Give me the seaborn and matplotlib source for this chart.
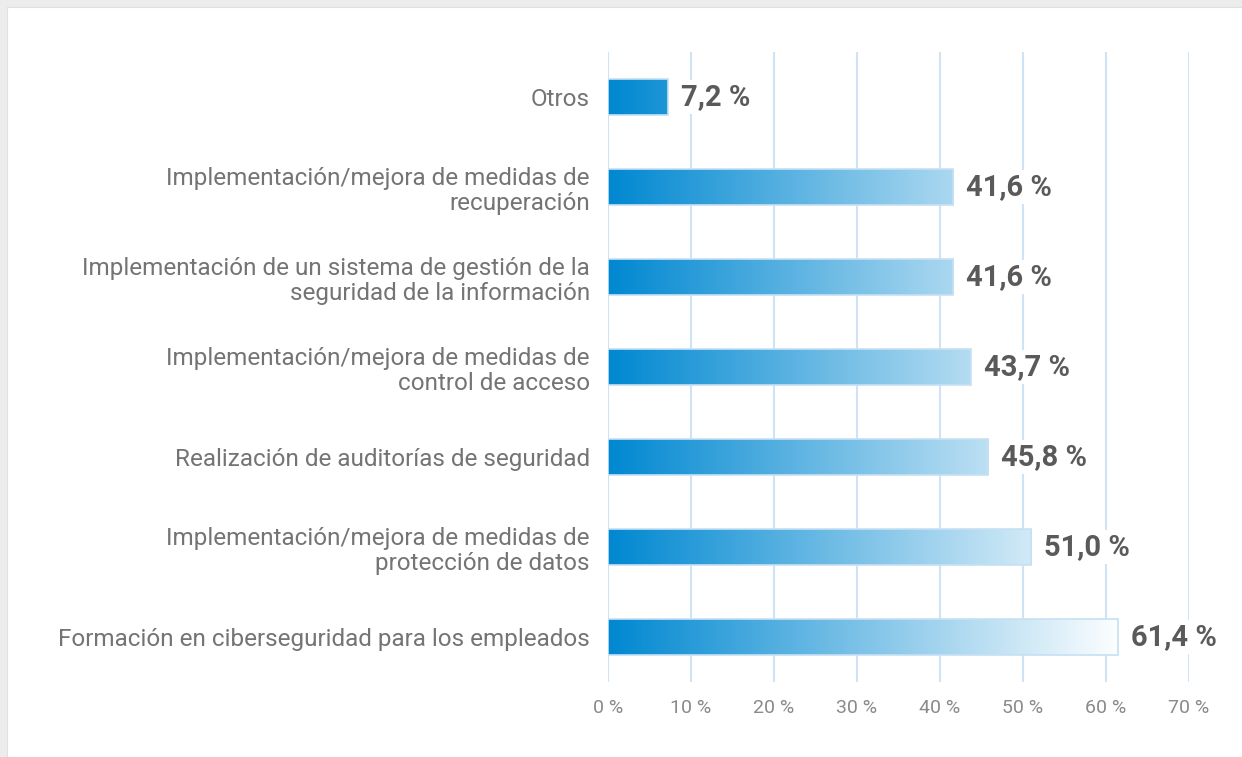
import numpy as np
import pandas as pd
import matplotlib
matplotlib.use("Agg")
import matplotlib.pyplot as plt
import seaborn as sns
from matplotlib.colors import LinearSegmentedColormap
from matplotlib.patches import Rectangle

categories = [
    "Otros",
    "Implementación/mejora de medidas de\nrecuperación",
    "Implementación de un sistema de gestión de la\nseguridad de la información",
    "Implementación/mejora de medidas de\ncontrol de acceso",
    "Realización de auditorías de seguridad",
    "Implementación/mejora de medidas de\nprotección de datos",
    "Formación en ciberseguridad para los empleados",
]
values = [7.2, 41.6, 41.6, 43.7, 45.8, 51.0, 61.4]
value_labels = ["7,2 %", "41,6 %", "41,6 %", "43,7 %", "45,8 %", "51,0 %", "61,4 %"]
tick_values = [0, 10, 20, 30, 40, 50, 60, 70]
tick_labels = ["0 %", "10 %", "20 %", "30 %", "40 %", "50 %", "60 %", "70 %"]

sns.set_theme(style="white")
plt.rcParams["font.family"] = ["Roboto", "DejaVu Sans"]

W, H = 1242, 757
fig = plt.figure(figsize=(W / 100, H / 100), dpi=100)
fig.patch.set_facecolor("#ececec")
fig.patches.append(Rectangle((7 / W, 0), 1 - 7 / W, 1 - 7 / H, transform=fig.transFigure,
                             facecolor="white", edgecolor="#e0e0e0", lw=0.8, zorder=-1))

ax = fig.add_axes([608 / W, 1 - 682 / H, (1189 - 608) / W, (682 - 52) / H])
ax.set_facecolor("none")

df = pd.DataFrame({"cat": categories, "val": values})
sns.barplot(data=df, y="cat", x="val", orient="h", ax=ax, width=0.4,
            color="#0088d1", edgecolor="#c6e0f4", linewidth=1.2, zorder=3)

cmap = LinearSegmentedColormap.from_list("g", ["#0088d1", "#ffffff"])
grad = np.linspace(0, 1, 256).reshape(1, -1)
for p in ax.patches:
    x0, y0 = p.get_x(), p.get_y()
    h = p.get_height()
    im = ax.imshow(grad, cmap=cmap, aspect="auto", extent=[0, 62, y0 + h, y0],
                   zorder=3.5, interpolation="bicubic")
    im.set_clip_path(p)
    p.set_facecolor("none")
    p.set_zorder(4)

ax.set_xlim(0, 70)
ax.set_ylim(6.5, -0.5)
ax.set_xticks(tick_values)
ax.set_xticklabels(tick_labels)
for x in tick_values:
    ax.axvline(x, color="#cfe3f5", lw=1.5, zorder=1)

for i, (v, lab) in enumerate(zip(values, value_labels)):
    ax.annotate(lab, (v, i), xytext=(9.5, 0), textcoords="offset points",
                ha="left", va="center", fontsize=21, fontweight="bold", color="#5a5a5a",
                bbox=dict(facecolor="white", edgecolor="none", pad=2), zorder=5)

ax.set_xlabel("")
ax.set_ylabel("")
for s in ax.spines.values():
    s.set_visible(False)
ax.tick_params(axis="x", length=0, pad=12, labelsize=14, labelcolor="#8a8a8a")
ax.tick_params(axis="y", length=0, pad=13, labelsize=17.5, labelcolor="#747474")
for t in ax.get_yticklabels():
    t.set_linespacing(1.15)

fig.savefig("out.png", dpi=100, facecolor=fig.get_facecolor())
